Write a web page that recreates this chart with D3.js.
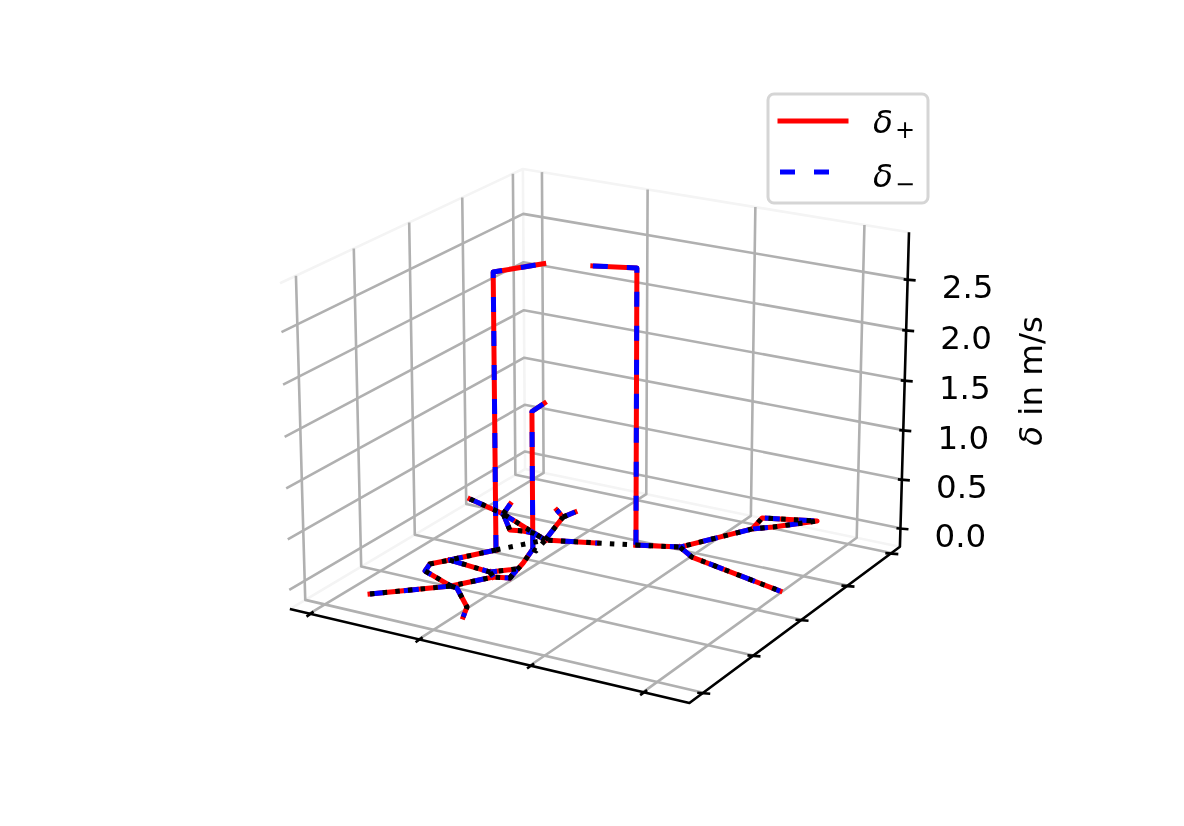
<!DOCTYPE html><html><head><meta charset="utf-8"><script src="https://cdn.jsdelivr.net/npm/d3@7"></script>
<style>body{margin:0;background:#fff}text{font-family:"DejaVu Sans";fill:#000}svg{filter:blur(.45px)}</style></head><body><svg id="c" width="1184" height="826"></svg><script>
// ---- data ----
const xTicks=[0.052,0.335,0.615,0.890];
const yTicks=[0.060,0.284,0.508,0.732,0.955];
const zTicks=[0,0.5,1,1.5,2,2.5];
const zTickLabels=["0.0","0.5","1.0","1.5","2.0","2.5"];
const zLim=[-0.19,2.96];
const nodeNames=["P1","P2","P3","P4","P5","P6","P7","A","B","C","D","E","G","H","I","J","K","U1","U2","U3","U4","U4t","U5","U6","U7","U8","U9","U10","U11","R0","R1","R2","R3","R4","R5","R6","R7"];
const nodeX=[0.166,0.295,0.348,0.383,0.363,0.339,0.351,0.270,0.235,0.212,0.186,0.199,0.327,0.369,0.312,0.388,0.410,0.052,0.169,0.335,0.446,0.437,0.150,0.234,0.263,0.289,0.298,0.263,0.306,0.528,0.620,0.709,0.697,0.815,0.745,0.672,0.934];
const nodeY=[0.069,0.196,0.287,0.300,0.390,0.472,0.466,0.426,0.364,0.323,0.281,0.241,0.308,0.353,0.193,0.113,0.062,0.666,0.623,0.533,0.576,0.573,0.685,0.545,0.555,0.556,0.675,0.706,0.716,0.609,0.648,0.827,0.899,0.945,0.861,0.609,0.532];
const branches=[
 ["P1","P2","P3","P4","P5","P6"],
 ["A","B","C","D","E","P2"],
 ["C","G","H","P4"],["G","P3"],
 ["P2","I","J","K"],
 ["U1","U2","U3","U4"],["U2","U5"],["U2","U6","U7","U8","U3"],
 ["U3","U9","U10"],["U9","U11"],
 ["R0","R1","R2","R3","R4","R5","R2"],["R1","R6","R7"]];
const blackOnly=[["A","U3"],["P6","P7","U3"],["U4","R0"]];
// raised stretches of δ: node and δ value in m/s
const raised=[
 {path:["A","A","U3"],delta:[0,2.75,2.75]},
 {path:["U4t","R0","R0"],delta:[2.75,2.75,0]},
 {path:["P6","P6","U3"],delta:[0,1.38,1.38]}];
const legendLabels=[["δ","+"],["δ","−"]];

// ---- projection ----
const rad=Math.PI/180,el=20*rad,az=-60*rad,dist=10;
const f=1.8294640721620434*25/24/Math.sqrt(41),box=[4*f,4*f,3*f];
const n=[Math.cos(el)*Math.cos(az),Math.cos(el)*Math.sin(az),Math.sin(el)];
const cross=(a,b)=>[a[1]*b[2]-a[2]*b[1],a[2]*b[0]-a[0]*b[2],a[0]*b[1]-a[1]*b[0]];
const dot=(a,b)=>a[0]*b[0]+a[1]*b[1]+a[2]*b[2];
let u=cross([0,0,1],n);const ul=Math.hypot(...u);u=u.map(d=>d/ul);const v=cross(n,u);
const eye=box.map((b,i)=>b/2+dist*n[i]);
const zs=d3.scaleLinear().domain(zLim).range([0,1]);
function raw(x,y,z){const p=[x*box[0]-eye[0],y*box[1]-eye[1],zs(z)*box[2]-eye[2]];const w=-dot(n,p);return [dot(u,p)/w,dot(v,p)/w];}
const cs=[];for(const x of[0,1])for(const y of[0,1])for(const z of zLim)cs.push(raw(x,y,z));
const sx=d3.scaleLinear().domain(d3.extent(cs,c=>c[0])).range([280,909]);
const sy=d3.scaleLinear().domain(d3.extent(cs,c=>c[1])).range([703,169]);
const P=(x,y,z)=>{const r=raw(x,y,z);return [sx(r[0]),sy(r[1])];};
const node=(name,z=0)=>{const i=nodeNames.indexOf(name);return P(nodeX[i],nodeY[i],z);};

// ---- drawing ----
const svg=d3.select("#c"),line=d3.line();
const [z0,z1]=zLim;
const draw=(pts,stroke,w,extra={})=>{const s=svg.append("path").attr("d",line(pts)).attr("fill","none").attr("stroke",stroke).attr("stroke-width",w).attr("stroke-linejoin","round");
 Object.entries(extra).forEach(([k,val])=>s.attr(k,val));return s;};
// panes
const paneC="#f4f4f4";
[[[0,0,z0],[0,1,z0],[1,1,z0]],[[0,0,z1],[0,1,z1],[1,1,z1]],[[0,1,z0],[0,1,z1]]].forEach(e=>draw(e.map(c=>P(...c)),paneC,2.6));
// grid
const grid="#b0b0b0",gw=2.6;
xTicks.forEach(x=>draw([P(x,0,z0),P(x,1,z0),P(x,1,z1)],grid,gw));
yTicks.forEach(y=>draw([P(1,y,z0),P(0,y,z0),P(0,y,z1)],grid,gw));
zTicks.forEach(z=>draw([P(0,0,z),P(0,1,z),P(1,1,z)],grid,gw));
// axes
const aw=2.6;
draw([P(0,0,z0),P(1,0,z0),P(1,1,z0),P(1,1,z1)],"#000",aw);
xTicks.forEach(x=>{const p=P(x,0,z0);draw([[p[0]-3,p[1]+3],[p[0]+4,p[1]-2]],"#000",aw);});
yTicks.forEach(y=>{const p=P(1,y,z0);draw([[p[0]-6,p[1]],[p[0]+7,p[1]+1]],"#000",aw);});
zTicks.forEach((z,i)=>{const p=P(1,1,z);draw([[p[0]-4,p[1]],[p[0]+8,p[1]+1]],"#000",aw);
 svg.append("text").attr("x",p[0]+60).attr("y",p[1]+19).attr("text-anchor","middle").attr("font-size",32.5).text(zTickLabels[i]);});
const zl=svg.append("text").attr("transform","translate(1042,381) rotate(-90)").attr("text-anchor","middle").attr("font-size",32.5);
zl.append("tspan").attr("font-style","italic").text("δ");zl.append("tspan").text(" in m/s");
// series
const lw=5;
const floorPaths=branches.map(b=>b.map(k=>node(k)));
const raisedPaths=raised.map(r=>r.path.map((k,i)=>node(k,r.delta[i])));
const allPaths=floorPaths.concat(raisedPaths);
allPaths.forEach(p=>draw(p,"#ff0000",lw,{"stroke-linecap":"square"}));
allPaths.forEach(p=>draw(p,"#0000ff",lw,{"stroke-dasharray":"15 19"}));
floorPaths.concat(blackOnly.map(b=>b.map(k=>node(k)))).forEach(p=>draw(p,"#000",lw,{"stroke-dasharray":"4.5 8.2"}));
// legend
svg.append("rect").attr("x",768).attr("y",94).attr("width",160).attr("height",109).attr("rx",6).attr("fill","#fff").attr("fill-opacity",.8).attr("stroke","#d5d5d5").attr("stroke-width",3);
draw([[780,121],[846,121]],"#ff0000",lw,{"stroke-linecap":"square"});
draw([[780,172],[848,172]],"#0000ff",lw,{"stroke-dasharray":"15 19"});
legendLabels.forEach((l,i)=>{const y=i?187:133;
 svg.append("text").attr("x",873).attr("y",y).attr("font-size",32.5).attr("font-style","italic").text(l[0]);
 svg.append("text").attr("x",895).attr("y",y+5).attr("font-size",24).text(l[1]);});
</script></body></html>
